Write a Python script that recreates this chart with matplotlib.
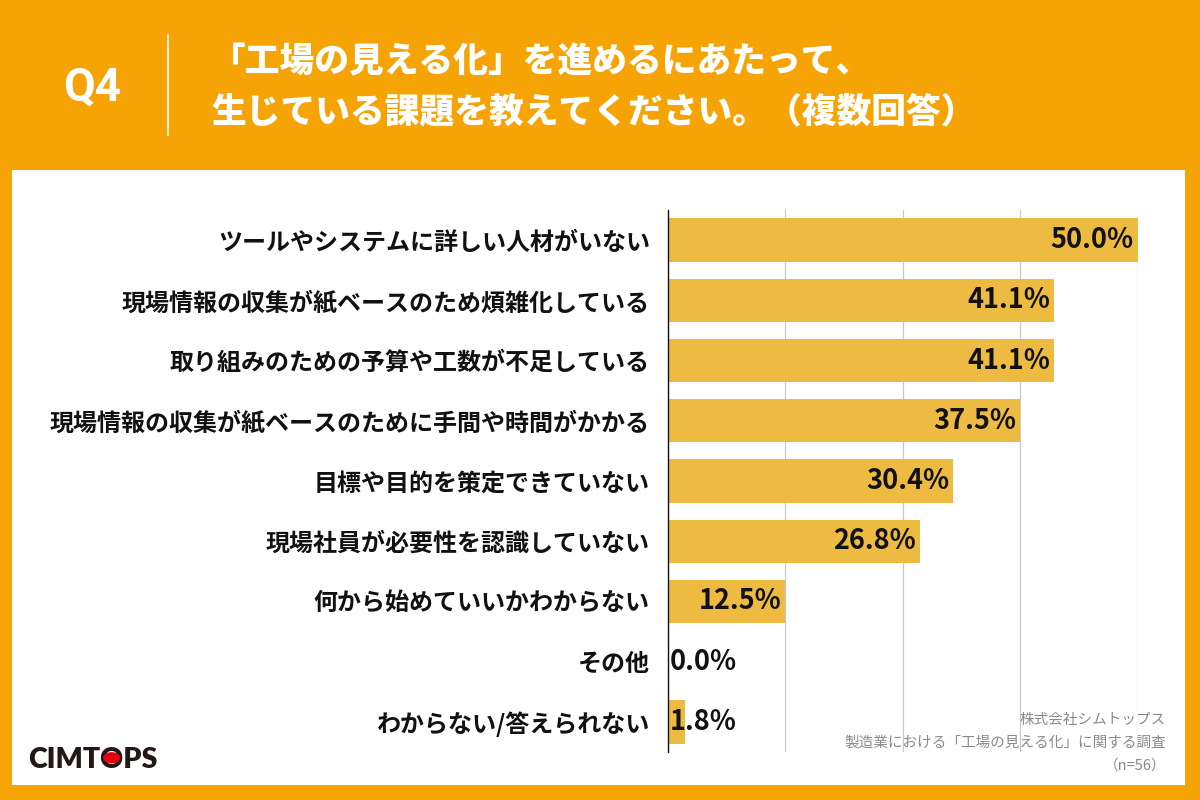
import matplotlib
matplotlib.use("Agg")
import matplotlib.pyplot as plt
from matplotlib.patches import Rectangle, Circle
from matplotlib.lines import Line2D

plt.rcParams['font.family'] = ['Noto Sans CJK JP', 'DejaVu Sans']

categories = [
    "ツールやシステムに詳しい人材がいない",
    "現場情報の収集が紙ベースのため煩雑化している",
    "取り組みのための予算や工数が不足している",
    "現場情報の収集が紙ベースのために手間や時間がかかる",
    "目標や目的を策定できていない",
    "現場社員が必要性を認識していない",
    "何から始めていいかわからない",
    "その他",
    "わからない/答えられない",
]
values = [50.0, 41.1, 41.1, 37.5, 30.4, 26.8, 12.5, 0.0, 1.8]
xticks = [0, 12.5, 25, 37.5, 50]

title_lines = ["「工場の見える化」を進めるにあたって、",
               "生じている課題を教えてください。（複数回答）"]
question = "Q4"
source_lines = ["株式会社シムトップス",
                "製造業における「工場の見える化」に関する調査",
                "（n=56）"]
logo = "CIMTOPS"

ORANGE = "#F5A305"
BAR = "#EDBB42"
W, H = 1200, 800

fig = plt.figure(figsize=(12, 8), dpi=100)
fig.patch.set_facecolor(ORANGE)

def fx(px):
    return px / W

def fy(py):
    return 1 - py / H

# white panel
fig.patches.append(Rectangle((fx(12), fy(785)), fx(1185) - fx(12), fy(170) - fy(785),
                             transform=fig.transFigure, facecolor="white",
                             edgecolor="none", zorder=-10))

# header
fig.text(fx(92), fy(88), question, color="white", fontsize=33, fontweight="bold",
         ha="center", va="center", family=["Roboto", "DejaVu Sans"])
fig.lines.append(Line2D([fx(168), fx(168)], [fy(35), fy(135)], transform=fig.transFigure,
                        color="white", linewidth=1.2))
fig.text(fx(211), fy(62), title_lines[0], color="white", fontsize=25,
         fontweight="heavy", ha="left", va="center")
fig.text(fx(211), fy(112), title_lines[1], color="white", fontsize=25,
         fontweight="heavy", ha="left", va="center")

# axes
ax = fig.add_axes([fx(668), fy(752), fx(1138) - fx(668), fy(210) - fy(752)])
ax.set_zorder(1)
ax.set_facecolor("none")
y = list(range(len(categories)))
ax.barh(y, values, height=0.72, color=BAR, zorder=2)
ax.set_xlim(0, 50.05)
ax.set_ylim(len(categories) - 0.5, -0.5)
ax.set_xticks(xticks)
ax.grid(axis="x", color="#c8c8c8", linewidth=0.9, zorder=0)
ax.set_axisbelow(True)
ax.tick_params(axis="x", length=0, labelbottom=False)
ax.tick_params(axis="y", length=0, pad=13)
ax.set_yticks(y)
ax.set_yticklabels(categories, fontsize=17.3, fontweight="bold", color="#111111")
for s in ["top", "right", "bottom"]:
    ax.spines[s].set_visible(False)
ax.spines["left"].set_color("#111111")
ax.spines["left"].set_linewidth(1.0)
ax.spines["left"].set_zorder(3)

for yi, v in zip(y, values):
    label = f"{v:.1f}%"
    if v >= 5:
        ax.annotate(label, (v, yi), xytext=(-3, 0), textcoords="offset points",
                    ha="right", va="center", fontsize=19.5, fontweight="bold",
                    color="#111111", zorder=4)
    else:
        ax.annotate(label, (0, yi), xytext=(1.5, 0), textcoords="offset points",
                    ha="left", va="center", fontsize=19.5, fontweight="bold",
                    color="#111111", zorder=4)

# source text
for line, py in zip(source_lines, [720, 743, 766]):
    fig.text(fx(1166), fy(py), line, color="#8a8a8a", fontsize=10.5,
             ha="right", va="center")

# logo
LFS = 20.5
lfam = ["Lato", "DejaVu Sans"]
base_y = 768
lt = fig.text(fx(28), fy(base_y), logo, color="#231815", fontsize=LFS, fontweight="heavy",
              ha="left", va="baseline", family=lfam)
fig.canvas.draw()
r = fig.canvas.get_renderer()
t1 = fig.text(fx(28), fy(base_y), logo[:4], fontsize=LFS, fontweight="heavy",
              ha="left", va="baseline", family=lfam, alpha=0)
t2 = fig.text(fx(28), fy(base_y), logo[:5], fontsize=LFS, fontweight="heavy",
              ha="left", va="baseline", family=lfam, alpha=0)
e1 = t1.get_window_extent(r)
e2 = t2.get_window_extent(r)
cx = (e1.x1 + e2.x1) / 2
cap_px = 0.72 * LFS * 100 / 72
cy = (H - base_y) + cap_px / 2
fig.patches.append(Circle((cx / W, cy / H), radius=(cap_px / 2 - 1.8) / W,
                          transform=fig.transFigure,
                          facecolor="#E60012", edgecolor="none", zorder=5))
t1.remove()
t2.remove()

fig.savefig("out.png", dpi=100, facecolor=fig.get_facecolor())
